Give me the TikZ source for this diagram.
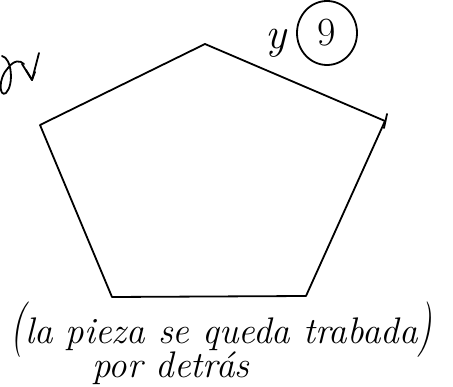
\documentclass[tikz,border=0pt]{standalone}
\usepackage{fontspec}
\begin{document}
\begin{tikzpicture}[x=1pt,y=-1pt,
  ink/.style={line width=1.8pt,line join=round,line cap=round,black},
  hand/.style={font=\fontsize{37}{37}\selectfont\itshape,inner sep=0pt}]
\useasboundingbox (0,0) rectangle (453,387);
% pentagon corners
\coordinate (top) at (205,44);
\coordinate (right) at (385,121);
\coordinate (left) at (40,125);
\coordinate (bl) at (112,297);
\coordinate (br) at (306,296);
\draw[ink] (left) -- (top) -- (right) -- (br) -- (bl) -- cycle;
\draw[ink] (right) ++(2,-7) -- ++(-3,14);
% y (9)
\node[hand,font=\fontsize{44}{44}\selectfont\itshape] (yy) at (276,43) {y};
\node[hand,font=\fontsize{40}{40}\selectfont] (nine) at (327,33) {9};
\draw[ink] (nine) ellipse[x radius=30,y radius=32];
% scribble top left
\draw[ink] (2,56) .. controls (12,58) and (14,85) .. (6,93) .. controls (-1,98) and (-2,78) .. (8,68) .. controls (14,60) and (20,60) .. (24,64);
\draw[ink] (22,64) -- (32,80) -- (39,53);
\draw[ink] (26,70) -- (32,80) -- (35,72);
% text
\node[hand,anchor=west] (line1) at (10,330) {\scalebox{1}[1.5]{(}la pieza se queda trabada\scalebox{1}[1.5]{)}};
\node[hand,anchor=west] (line2) at (92,368) {por detrás};
\end{tikzpicture}
\end{document}
